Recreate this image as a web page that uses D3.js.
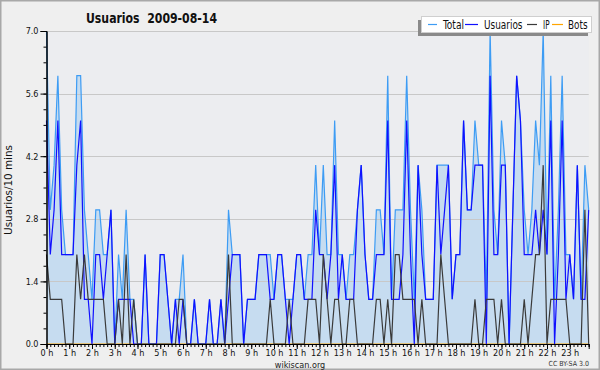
<!DOCTYPE html>
<html><head><meta charset="utf-8">
<script src="https://cdn.jsdelivr.net/npm/d3@7"></script>
<style>
html,body{margin:0;padding:0;background:#efefef;}
svg{display:block;}
text{font-family:"DejaVu Sans Condensed","DejaVu Sans",sans-serif;font-stretch:condensed;}
</style></head>
<body>
<svg id="c" width="600" height="370"></svg>
<script>
const title = "Usuarios  2009-08-14";
const yLabel = "Usuarios/10 mins";
const hourLabels = d3.range(24).map(h => h + " h");
const yTicks = [0, 1.4, 2.8, 4.2, 5.6, 7.0];
const seriesNames = ["Total", "Usuarios", "IP", "Bots"];
const seriesColors = ["#3d9cf4", "#1010ff", "#3a3a3a", "#ffa500"];

const total = [7,3,4,6,3,2,2,2,6,6, 3,2,1,3,3,2,2,3,0,2, 1,3,1,1,0,0,2,0,0,0,
  2,2,1,0,1,1,2,0,0,1, 0,0,0,1,0,0,1,0,3,2, 2,2,0,1,1,1,2,2,2,2,
  1,2,2,1,1,1,2,2,1,2, 2,4,2,4,2,2,5,2,2,1, 2,2,3,4,2,1,1,3,3,2,
  6,1,3,3,3,6,3,1,4,3, 1,1,1,4,4,4,4,1,2,2, 5,3,3,5,4,4,1,7,3,2,
  5,4,0,3,6,5,3,2,3,5, 4,7,2,6,1,3,6,2,2,1, 4,1,4,3];
const usuarios = [5,2,3,5,2,2,2,2,4,5, 1,1,0,2,2,1,2,3,0,1, 1,1,1,0,0,0,2,0,0,0,
  2,2,1,0,1,0,1,0,0,1, 0,0,0,1,0,0,1,0,1,2, 2,2,0,1,1,1,2,2,2,1,
  1,2,2,1,0,1,2,2,1,1, 1,3,2,2,1,2,4,1,2,1, 1,1,3,4,2,1,1,2,2,2,
  5,1,1,1,2,5,2,0,4,2, 1,1,1,4,2,3,4,1,2,2, 5,3,3,4,4,4,0,6,2,2,
  4,4,0,3,6,5,2,2,2,3, 2,3,2,5,0,2,5,1,2,1, 4,1,1,3];
const ip = [2,1,1,1,1,0,0,0,2,1, 2,1,1,1,1,1,0,0,0,1, 0,2,0,1,0,0,0,0,0,0,
  0,0,0,0,0,1,1,0,0,0, 0,0,0,0,0,0,0,0,2,0, 0,0,0,0,0,0,0,0,0,1,
  0,0,0,0,1,0,0,0,0,1, 1,1,0,2,1,0,1,1,0,0, 1,1,0,0,0,0,0,1,1,0,
  1,0,2,2,1,1,1,1,0,1, 0,0,0,0,2,1,0,0,0,0, 0,0,0,1,0,0,1,1,1,0,
  1,0,0,0,0,0,1,0,1,2, 2,4,0,1,1,1,1,1,0,0, 0,0,3,0];
const bots = [0,0,0,0,0,0,0,0,0,0, 0,0,0,0,0,0,0,0,0,0, 0,0,0,0,0,0,0,0,0,0,
  0,0,0,0,0,0,0,0,0,0, 0,0,0,0,0,0,0,0,0,0, 0,0,0,0,0,0,0,0,0,0,
  0,0,0,0,0,0,0,0,0,0, 0,0,0,0,0,0,0,0,0,0, 0,0,0,0,0,0,0,0,0,0,
  0,0,0,0,0,0,0,0,0,0, 0,0,0,0,0,0,0,0,0,0, 0,0,0,0,0,0,0,0,0,0,
  0,0,0,0,0,0,0,0,0,0, 0,0,0,0,0,0,0,0,0,0, 0,0,0,0];

const svg = d3.select("#c");
const W = 600, H = 370;
const L = 46.5, R = 588.7, T = 31, B = 344;

svg.append("rect").attr("x",0.5).attr("y",0.5).attr("width",W-1).attr("height",H-1)
  .attr("fill","#efefef").attr("stroke","#a8a8a8").attr("stroke-width",2);
svg.append("rect").attr("x",L).attr("y",T).attr("width",R-L).attr("height",B-T).attr("fill","#ecedf0");

const x = d3.scaleLinear().domain([0, 143]).range([L, R]);
const y = d3.scaleLinear().domain([0, 7]).range([B, T]);

// area
svg.append("path").datum(total)
  .attr("d", d3.area().x((d,i)=>x(i)).y0(y(0)).y1(d=>y(d)))
  .attr("fill", "#c6dcf0");

// grid
svg.append("g").selectAll("line").data(yTicks.slice(1)).join("line")
  .attr("x1", L).attr("x2", R).attr("y1", d=>Math.round(y(d))+0.5).attr("y2", d=>Math.round(y(d))+0.5)
  .attr("stroke", "#c8c8c8").attr("stroke-width", 1);

// lines
const line = d3.line().x((d,i)=>x(i)).y(d=>y(d));
[[bots,3],[total,0],[usuarios,1],[ip,2]].forEach(([arr,k]) => {
  svg.append("path").datum(arr).attr("d", line).attr("fill","none")
    .attr("stroke", seriesColors[k]).attr("stroke-width", 1.2);
});

// y axis
const yAxis = d3.axisLeft(y).tickValues(d3.range(0, 7.001, 0.35)).tickSize(3).tickFormat("");
const gy = svg.append("g").attr("transform", `translate(${L},0)`).call(yAxis);
const yMaj = d3.axisLeft(y).tickValues(yTicks).tickSize(6).tickFormat(d3.format(".1f"));
const gy2 = svg.append("g").attr("transform", `translate(${L},0)`).call(yMaj);
[gy, gy2].forEach(g => {
  g.select(".domain").attr("stroke","#000");
  g.selectAll(".tick line").attr("stroke","#000");
  g.selectAll("text").attr("font-size", 9).attr("fill","#111").attr("dx", 1);
});

// x axis
const xAxis = d3.axisBottom(x).tickValues(d3.range(0, 144, 1)).tickSize(3).tickFormat("");
const gx = svg.append("g").attr("transform", `translate(0,${B})`).call(xAxis);
const xMaj = d3.axisBottom(x).tickValues(d3.range(0, 24).map(h => h*6)).tickSize(5)
  .tickPadding(1).tickFormat((d) => hourLabels[d/6]);
const gx2 = svg.append("g").attr("transform", `translate(0,${B})`).call(xMaj);
[gx, gx2].forEach(g => {
  g.select(".domain").attr("stroke","#000");
  g.selectAll(".tick line").attr("stroke","#000");
  g.selectAll("text").attr("font-size", 9).attr("fill","#111");
});

// title
svg.append("text").attr("x", 86).attr("y", 23).text(title)
  .attr("font-size", 13.5).attr("font-weight", "bold").attr("fill", "#111")
  .attr("textLength", 131).attr("lengthAdjust", "spacingAndGlyphs")
  .attr("xml:space","preserve");

// y label
svg.append("text").attr("transform", "translate(12,190) rotate(-90)").attr("text-anchor","middle")
  .attr("font-family","DejaVu Sans Mono, monospace").attr("font-size", 10).attr("fill","#111")
  .attr("textLength", 90).attr("lengthAdjust","spacingAndGlyphs").text(yLabel);

svg.append("text").attr("x", 300).attr("y", 367.5).attr("text-anchor","middle")
  .attr("font-size", 9).attr("fill","#222").text("wikiscan.org");
svg.append("text").attr("x", 589).attr("y", 366).attr("text-anchor","end")
  .attr("font-size", 7).attr("fill","#333").text("CC BY-SA 3.0");

// legend
const lg = svg.append("g");
lg.append("rect").attr("x", 418).attr("y", 20).attr("width", 170).attr("height", 16).attr("fill", "#8a8a8a");
lg.append("rect").attr("x", 421.5).attr("y", 16.5).attr("width", 170).attr("height", 16).attr("fill", "#fff").attr("stroke","#cfcfcf");
const legX = [428, 465, 527, 552];
const legLW = [9, 13, 10, 11];
const legTX = [443, 484, 543, 568];
const legTW = [21, 38.5, 6.5, 19.5];
seriesNames.forEach((n, k) => {
  lg.append("line").attr("x1", legX[k]).attr("x2", legX[k] + legLW[k]).attr("y1", 24.5).attr("y2", 24.5)
    .attr("stroke", seriesColors[k]).attr("stroke-width", 1.2);
  lg.append("text").attr("x", legTX[k]).attr("y", 29).attr("font-size", 11.5).attr("fill","#111")
    .attr("textLength", legTW[k]).attr("lengthAdjust","spacingAndGlyphs").text(n);
});
</script>
</body></html>
